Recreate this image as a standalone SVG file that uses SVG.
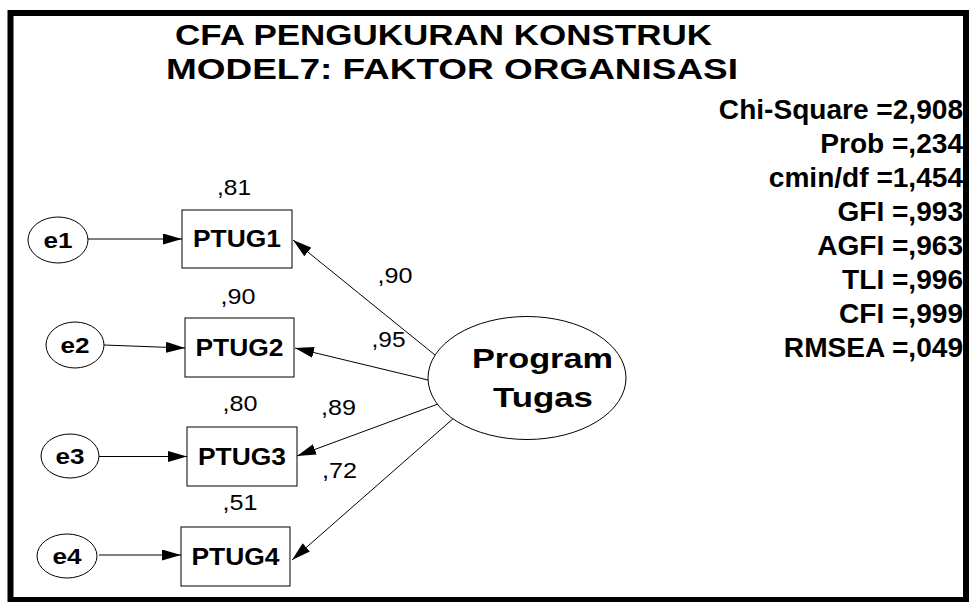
<svg xmlns="http://www.w3.org/2000/svg" width="970" height="602" viewBox="0 0 970 602">
<style>
.b{font-family:"Liberation Sans",Arial,sans-serif;font-weight:bold;fill:#000}
.r{font-family:"Liberation Sans",Arial,sans-serif;fill:#000;font-size:22px}
.st{font-size:27px}
.shape{fill:#fff;stroke:#000;stroke-width:1}
.ln{stroke:#000;stroke-width:1;fill:none;marker-end:url(#ah)}
</style>
<defs>
<marker id="ah" markerUnits="userSpaceOnUse" markerWidth="19" markerHeight="11" refX="19" refY="5.5" orient="auto">
<path d="M0,0 L19,5.5 L0,11 z" fill="#000"/>
</marker>
</defs>
<rect x="0" y="0" width="970" height="602" fill="#fff"/>
<rect x="10.5" y="13" width="955.5" height="587" fill="none" stroke="#000" stroke-width="6"/>
<g id="title">
<text class="b" x="175" y="45" font-size="29" textLength="537" lengthAdjust="spacingAndGlyphs">CFA PENGUKURAN KONSTRUK</text>
<text class="b" x="166" y="79" font-size="29" textLength="572" lengthAdjust="spacingAndGlyphs">MODEL7: FAKTOR ORGANISASI</text>
</g>
<g id="fit-stats" transform="translate(963,0) scale(1.04,1)">
<text class="b st" text-anchor="end" x="0" y="119">Chi-Square =2,908</text>
<text class="b st" text-anchor="end" x="0" y="153">Prob =,234</text>
<text class="b st" text-anchor="end" x="0" y="187">cmin/df =1,454</text>
<text class="b st" text-anchor="end" x="0" y="221">GFI =,993</text>
<text class="b st" text-anchor="end" x="0" y="255">AGFI =,963</text>
<text class="b st" text-anchor="end" x="0" y="289">TLI =,996</text>
<text class="b st" text-anchor="end" x="0" y="323">CFI =,999</text>
<text class="b st" text-anchor="end" x="0" y="357">RMSEA =,049</text>
</g>
<g id="connectors">
<line class="ln" x1="88" y1="239" x2="182" y2="239"/>
<line class="ln" x1="104" y1="345" x2="185" y2="348"/>
<line class="ln" x1="99" y1="456.5" x2="187" y2="456.5"/>
<line class="ln" x1="99" y1="555" x2="181" y2="555"/>
<line class="ln" x1="435" y1="355" x2="293" y2="240"/>
<line class="ln" x1="428" y1="380" x2="295" y2="348"/>
<line class="ln" x1="438" y1="404" x2="297" y2="456"/>
<line class="ln" x1="455" y1="417" x2="292" y2="560"/>
</g>
<g id="labels">
<text class="r" x="234" y="195" text-anchor="middle" textLength="34" lengthAdjust="spacingAndGlyphs">,81</text>
<text class="r" x="238" y="304" text-anchor="middle" textLength="35" lengthAdjust="spacingAndGlyphs">,90</text>
<text class="r" x="395" y="283" text-anchor="middle" textLength="35" lengthAdjust="spacingAndGlyphs">,90</text>
<text class="r" x="388.5" y="347" text-anchor="middle" textLength="34" lengthAdjust="spacingAndGlyphs">,95</text>
<text class="r" x="240" y="411" text-anchor="middle" textLength="35" lengthAdjust="spacingAndGlyphs">,80</text>
<text class="r" x="338.5" y="415" text-anchor="middle" textLength="35" lengthAdjust="spacingAndGlyphs">,89</text>
<text class="r" x="339.5" y="478" text-anchor="middle" textLength="35" lengthAdjust="spacingAndGlyphs">,72</text>
<text class="r" x="240" y="510" text-anchor="middle" textLength="35" lengthAdjust="spacingAndGlyphs">,51</text>
</g>
<g id="e1"><ellipse class="shape" cx="58" cy="240" rx="30" ry="23"/><text class="b" font-size="22" x="58" y="248" text-anchor="middle" textLength="29" lengthAdjust="spacingAndGlyphs">e1</text></g>
<g id="e2"><ellipse class="shape" cx="75" cy="345" rx="29" ry="23"/><text class="b" font-size="22" x="75" y="353" text-anchor="middle" textLength="29" lengthAdjust="spacingAndGlyphs">e2</text></g>
<g id="e3"><ellipse class="shape" cx="70" cy="456" rx="29" ry="22"/><text class="b" font-size="22" x="70" y="464" text-anchor="middle" textLength="29" lengthAdjust="spacingAndGlyphs">e3</text></g>
<g id="e4"><ellipse class="shape" cx="67" cy="556" rx="30" ry="22"/><text class="b" font-size="22" x="67" y="564" text-anchor="middle" textLength="29" lengthAdjust="spacingAndGlyphs">e4</text></g>
<g id="PTUG1"><rect class="shape" x="182" y="210" width="110" height="58"/><text class="b" font-size="23" x="237" y="247" text-anchor="middle" textLength="88" lengthAdjust="spacingAndGlyphs">PTUG1</text></g>
<g id="PTUG2"><rect class="shape" x="185" y="318" width="109" height="59"/><text class="b" font-size="23" x="239.5" y="356" text-anchor="middle" textLength="88" lengthAdjust="spacingAndGlyphs">PTUG2</text></g>
<g id="PTUG3"><rect class="shape" x="187" y="427" width="110" height="59"/><text class="b" font-size="23" x="242" y="465" text-anchor="middle" textLength="88" lengthAdjust="spacingAndGlyphs">PTUG3</text></g>
<g id="PTUG4"><rect class="shape" x="181" y="527" width="109" height="59"/><text class="b" font-size="23" x="235.5" y="565" text-anchor="middle" textLength="88" lengthAdjust="spacingAndGlyphs">PTUG4</text></g>
<g id="ProgramTugas"><ellipse class="shape" cx="527" cy="378" rx="99" ry="61.5"/>
<text class="b" font-size="28" x="542.5" y="368" text-anchor="middle" textLength="141" lengthAdjust="spacingAndGlyphs">Program</text>
<text class="b" font-size="28" x="543" y="407" text-anchor="middle" textLength="100" lengthAdjust="spacingAndGlyphs">Tugas</text>
</g>
</svg>
